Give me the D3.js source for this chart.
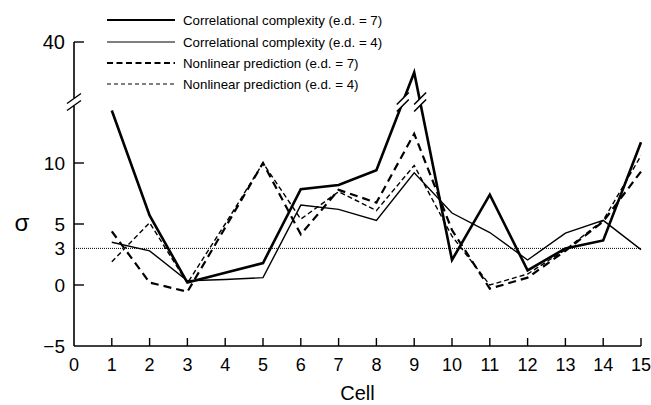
<!DOCTYPE html>
<html>
<head>
<meta charset="utf-8">
<script src="https://cdn.jsdelivr.net/npm/d3@7"></script>
<style>
  html, body { margin: 0; padding: 0; background: #fff; }
  svg { display: block; font-family: "Liberation Sans", Arial, Helvetica, sans-serif; }
</style>
</head>
<body>
<svg id="chart" width="651" height="405"></svg>
<script>
// Cells along the horizontal axis
const cells = [1, 2, 3, 4, 5, 6, 7, 8, 9, 10, 11, 12, 13, 14, 15];

// σ values per cell for each measure
const ccEd7 = [14.3, 5.7, 0.2, 1.0, 1.8, 7.85, 8.2, 9.4, 37.5, 2.05, 7.4, 1.2, 3.0, 3.65, 11.7];
const ccEd4 = [3.5, 2.8, 0.35, 0.45, 0.6, 6.55, 6.2, 5.3, 9.2, 5.9, 4.3, 2.05, 4.25, 5.3, 2.9];
const npEd7 = [4.4, 0.2, -0.55, 4.7, 10.0, 4.15, 7.8, 6.75, 12.4, 4.5, -0.3, 0.6, 2.8, 5.2, 9.3];
const npEd4 = [1.9, 5.1, 0.15, 5.0, 10.0, 5.4, 7.65, 6.1, 9.8, 4.0, 0.0, 0.9, 2.9, 5.3, 10.6];

const seriesNames = [
  "Correlational complexity (e.d. = 7)",
  "Correlational complexity (e.d. = 4)",
  "Nonlinear prediction (e.d. = 7)",
  "Nonlinear prediction (e.d. = 4)"
];

// Axis ticks
const xTicks = d3.range(0, 16);
const yTicksLow = [-5, 0, 3, 5, 10];
const yTickLabelsLow = ["\u22125", "0", "3", "5", "10"];
const yTicksHigh = [40];
const threshold = 3;

const svg = d3.select("#chart");

// Scales: a lower segment and an upper segment above the axis break
const x = d3.scaleLinear().domain([0, 15]).range([74, 641]);
const yLow = d3.scaleLinear().domain([-5, 10]).range([346, 163]);
const yHigh = d3.scaleLinear().domain([35, 40]).range([103, 42]);
const y = v => (v > 20 ? yHigh(v) : yLow(v));

const axisColor = "#000";
const tickFont = 18;

// ---- y axis (broken) ----
const breakTop = 98, breakBot = 106;
svg.append("line").attr("x1", x(0)).attr("x2", x(0))
  .attr("y1", yHigh(40)).attr("y2", breakTop)
  .attr("stroke", axisColor).attr("stroke-width", 1.6);
svg.append("line").attr("x1", x(0)).attr("x2", x(0))
  .attr("y1", breakBot).attr("y2", yLow(-5))
  .attr("stroke", axisColor).attr("stroke-width", 1.6);

function breakMark(cx, cy, w, h, gap, sw) {
  // white gap between two parallel slashes
  const g = svg.append("g");
  g.append("path")
    .attr("d", `M${cx - w},${cy - gap / 2 + h} L${cx + w},${cy - gap / 2 - h} L${cx + w},${cy + gap / 2 - h} L${cx - w},${cy + gap / 2 + h} Z`)
    .attr("fill", "#fff");
  [-gap / 2, gap / 2].forEach(o => {
    g.append("line")
      .attr("x1", cx - w).attr("y1", cy + o + h)
      .attr("x2", cx + w).attr("y2", cy + o - h)
      .attr("stroke", "#000").attr("stroke-width", sw);
  });
}
breakMark(x(0), (breakTop + breakBot) / 2, 7, 5, 7, 1.4);

// y ticks (pointing inward)
yTicksLow.forEach((t, i) => {
  if (t !== -5 && t !== threshold) {
    svg.append("line").attr("x1", x(0)).attr("x2", x(0) + 10)
      .attr("y1", yLow(t)).attr("y2", yLow(t))
      .attr("stroke", axisColor).attr("stroke-width", 1.4);
  }
  svg.append("text").attr("x", 65).attr("y", yLow(t))
    .attr("text-anchor", "end").attr("dominant-baseline", "central")
    .attr("font-size", tickFont + 1).text(yTickLabelsLow[i]);
});
yTicksHigh.forEach(t => {
  svg.append("line").attr("x1", x(0)).attr("x2", x(0) + 10)
    .attr("y1", yHigh(t)).attr("y2", yHigh(t))
    .attr("stroke", axisColor).attr("stroke-width", 1.4);
  svg.append("text").attr("x", 65).attr("y", yHigh(t))
    .attr("text-anchor", "end").attr("dominant-baseline", "central")
    .attr("font-size", tickFont + 2).text(t);
});

// σ label
svg.append("text").attr("x", 22).attr("y", yLow(5) - 2)
  .attr("text-anchor", "middle").attr("dominant-baseline", "central")
  .attr("font-size", 24).text("σ");

// ---- x axis ----
svg.append("line").attr("x1", x(0)).attr("x2", x(15))
  .attr("y1", yLow(-5)).attr("y2", yLow(-5))
  .attr("stroke", axisColor).attr("stroke-width", 1.6);
xTicks.forEach(t => {
  if (t > 0) {
    svg.append("line").attr("x1", x(t)).attr("x2", x(t))
      .attr("y1", yLow(-5)).attr("y2", yLow(-5) - 8)
      .attr("stroke", axisColor).attr("stroke-width", 1.4);
  }
  svg.append("text").attr("x", x(t)).attr("y", 371)
    .attr("text-anchor", "middle")
    .attr("font-size", tickFont).text(t);
});
svg.append("text").attr("x", (x(0) + x(15)) / 2).attr("y", 400)
  .attr("text-anchor", "middle").attr("font-size", 20).text("Cell");

// threshold line at σ = 3
svg.append("line").attr("x1", x(0)).attr("x2", x(15))
  .attr("y1", yLow(threshold)).attr("y2", yLow(threshold))
  .attr("stroke", "#000").attr("stroke-width", 1)
  .attr("stroke-dasharray", "1,1");

// ---- data lines ----
const styles = [
  { data: ccEd7, width: 2.6, dash: null },
  { data: ccEd4, width: 1.4, dash: null },
  { data: npEd7, width: 2.2, dash: "8,5" },
  { data: npEd4, width: 1.4, dash: "5,3" }
];
const line = d3.line().x((d, i) => x(cells[i])).y(d => y(d));

// draw thin lines first so the heavy ones sit on top
[3, 1, 2, 0].forEach(k => {
  const s = styles[k];
  svg.append("path").datum(s.data).attr("d", line)
    .attr("fill", "none").attr("stroke", "#000")
    .attr("stroke-width", s.width)
    .attr("stroke-linejoin", "miter")
    .attr("stroke-dasharray", s.dash);
});

// break marks where the heavy line crosses into the upper segment
(function () {
  const i = ccEd7.indexOf(d3.max(ccEd7));
  const yb = (breakTop + breakBot) / 2;
  [[i - 1, i], [i, i + 1]].forEach(([a, b]) => {
    const x1 = x(cells[a]), y1 = y(ccEd7[a]);
    const x2 = x(cells[b]), y2 = y(ccEd7[b]);
    const t = (yb - y1) / (y2 - y1);
    breakMark(x1 + t * (x2 - x1), yb, 6, 6, 7, 1.6);
  });
})();

// ---- legend ----
const legendY = [20, 42, 63, 84];
styles.forEach((s, k) => {
  svg.append("line").attr("x1", 107).attr("x2", 175)
    .attr("y1", legendY[k]).attr("y2", legendY[k])
    .attr("stroke", "#000")
    .attr("stroke-width", k === 0 ? 2 : (k === 2 ? 1.8 : 1.2))
    .attr("stroke-dasharray", k === 2 ? "6,3.5" : (k === 3 ? "4,3" : null));
  svg.append("text").attr("x", 183).attr("y", legendY[k])
    .attr("dominant-baseline", "central")
    .attr("font-size", 13.3).text(seriesNames[k]);
});
</script>
</body>
</html>
